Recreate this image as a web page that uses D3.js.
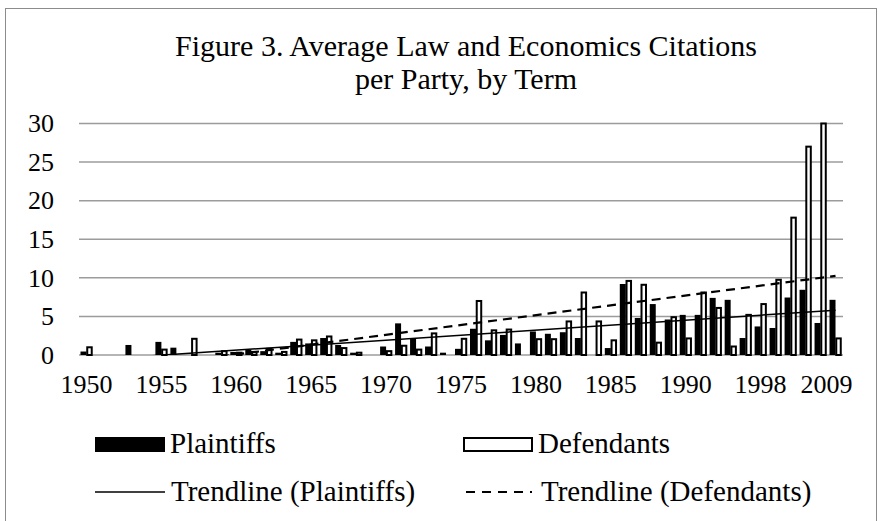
<!DOCTYPE html>
<html>
<head>
<meta charset="utf-8">
<script src="https://cdn.jsdelivr.net/npm/d3@7"></script>
<style>
  body { margin: 0; background: #fff; }
  svg { font-family: "Liberation Serif", "Times New Roman", serif; }
</style>
</head>
<body>
<script>
// terms (categories) - only every 5th one is labelled on the axis
var terms = ["1950","1951","1952","1953","1954","1955","1956","1957","1958","1959",
             "1960","1961","1962","1963","1964","1965","1966","1967","1968","1969",
             "1970","1971","1972","1973","1974","1975","1976","1977","1978","1979",
             "1980","1981","1982","1983","1984","1985","1986","1987","1988","1989",
             "1990","1991","1992","1994","1996","1998","2001","2003","2005","2007",
             "2009"];

var plaintiffs = [0.45, 0, 0, 1.3, 0, 1.7, 0.95, 0, 0, 0.3,
                  0.4, 0.7, 0.5, 0.3, 1.7, 1.5, 2.2, 1.3, 0.3, 0,
                  1.1, 4.1, 2.1, 1.1, 0.3, 0.8, 3.4, 1.9, 2.6, 1.5,
                  3.05, 2.75, 2.95, 2.2, 0, 0.9, 9.2, 4.8, 6.6, 4.6,
                  5.2, 5.2, 7.4, 7.15, 2.2, 3.7, 3.5, 7.45, 8.45, 4.15,
                  7.15];

var defendants = [1.0, 0, 0, 0, 0, 0.7, 0, 2.1, 0, 0.5,
                  0.3, 0.4, 0.8, 0.4, 2.0, 1.9, 2.4, 0.9, 0.3, 0,
                  0.5, 1.2, 0.7, 2.8, 0, 2.1, 7.0, 3.2, 3.3, 0,
                  2.05, 2.05, 4.35, 8.1, 4.35, 1.9, 9.6, 9.1, 1.6, 4.9,
                  2.15, 8.1, 6.1, 1.1, 5.2, 6.6, 9.75, 17.8, 27.0, 30.0,
                  2.15];

var yTicks = [0, 5, 10, 15, 20, 25, 30];
var seriesNames = ["Plaintiffs", "Defendants"];

function main() {

    var W = 879, H = 521;
    var plot = {left: 79, right: 843, top: 123.5, bottom: 355};

    var svg = d3.select("body").append("svg")
        .attr("width", W)
        .attr("height", H);

    svg.append("rect").attr("width", W).attr("height", H).attr("fill", "#fff");

    // outer frame of the chart area (cut by the screenshot)
    svg.append("rect")
        .attr("x", 5.5).attr("y", 8.5)
        .attr("width", 871).attr("height", 530)
        .attr("fill", "none")
        .attr("stroke", "#8c8c8c")
        .attr("stroke-width", 1);

    // title
    var title = svg.append("text")
        .attr("text-anchor", "middle")
        .attr("font-size", 30)
        .attr("fill", "#000");
    title.append("tspan").attr("x", 466).attr("y", 56)
        .text("Figure 3. Average Law and Economics Citations");
    title.append("tspan").attr("x", 466).attr("y", 89)
        .text("per Party, by Term");

    // scales
    var x = d3.scaleBand()
        .domain(terms)
        .range([plot.left, plot.right])
        .paddingInner(0.2)
        .paddingOuter(0.1);

    var xSub = d3.scaleBand()
        .domain(seriesNames)
        .range([0, x.bandwidth()]);

    var y = d3.scaleLinear()
        .domain([0, 30])
        .range([plot.bottom, plot.top]);

    // gridlines
    svg.append("g")
        .selectAll("line")
        .data(yTicks)
        .join("line")
        .attr("x1", plot.left)
        .attr("x2", plot.right)
        .attr("y1", function(d) { return y(d); })
        .attr("y2", function(d) { return y(d); })
        .attr("stroke", "#9c9c9c")
        .attr("stroke-width", 1.5);

    // y axis labels
    var yAxis = svg.append("g")
        .attr("transform", "translate(" + plot.left + ",0)")
        .call(d3.axisLeft(y).tickValues(yTicks).tickSize(0).tickPadding(25));
    yAxis.select(".domain").remove();
    yAxis.selectAll("text")
        .attr("font-family", "Liberation Serif")
        .attr("font-size", 26)
        .attr("fill", "#000");

    // x axis labels
    var shown = terms.filter(function(d, i) { return i % 5 === 0; });
    var xAxis = svg.append("g")
        .attr("transform", "translate(0," + plot.bottom + ")")
        .call(d3.axisBottom(x).tickValues(shown).tickSize(0).tickPadding(20));
    xAxis.select(".domain").remove();
    xAxis.selectAll("text")
        .attr("font-family", "Liberation Serif")
        .attr("font-size", 26)
        .attr("fill", "#000")
        .attr("dx", function(d) { return d === terms[terms.length - 1] ? -9 : 0; });

    // bars
    var rows = terms.map(function(t, i) {
        return {term: t, Plaintiffs: plaintiffs[i], Defendants: defendants[i]};
    });

    svg.append("g")
        .selectAll("rect")
        .data(rows.filter(function(d) { return d.Plaintiffs > 0; }))
        .join("rect")
        .attr("x", function(d) { return x(d.term) + xSub("Plaintiffs"); })
        .attr("width", xSub.bandwidth())
        .attr("y", function(d) { return y(d.Plaintiffs); })
        .attr("height", function(d) { return y(0) - y(d.Plaintiffs); })
        .attr("fill", "#000");

    svg.append("g")
        .selectAll("rect")
        .data(rows.filter(function(d) { return d.Defendants > 0; }))
        .join("rect")
        .attr("x", function(d) { return x(d.term) + xSub("Defendants") + 0.75; })
        .attr("width", xSub.bandwidth() - 1.5)
        .attr("y", function(d) { return y(d.Defendants); })
        .attr("height", function(d) { return y(0) - y(d.Defendants); })
        .attr("fill", "#fff")
        .attr("stroke", "#000")
        .attr("stroke-width", 2);

    // linear trendlines (least squares over term index), clipped to the plot
    svg.append("clipPath").attr("id", "plotclip")
        .append("rect")
        .attr("x", plot.left).attr("y", plot.top - 5)
        .attr("width", plot.right - plot.left)
        .attr("height", plot.bottom - plot.top + 5);

    function trend(vals) {
        var n = vals.length;
        var xs = d3.range(1, n + 1);
        var mx = d3.mean(xs), my = d3.mean(vals);
        var sxy = 0, sxx = 0;
        for (var i = 0; i < n; i++) {
            sxy += (xs[i] - mx) * (vals[i] - my);
            sxx += (xs[i] - mx) * (xs[i] - mx);
        }
        var b = sxy / sxx, a = my - b * mx;
        return [{term: terms[0], v: a + b * 1}, {term: terms[n - 1], v: a + b * n}];
    }

    var line = d3.line()
        .x(function(d) { return x(d.term) + x.bandwidth() / 2; })
        .y(function(d) { return y(d.v); });

    svg.append("path")
        .datum(trend(plaintiffs))
        .attr("clip-path", "url(#plotclip)")
        .attr("d", line)
        .attr("fill", "none")
        .attr("stroke", "#000")
        .attr("stroke-width", 1.5);

    svg.append("path")
        .datum(trend(defendants))
        .attr("clip-path", "url(#plotclip)")
        .attr("d", line)
        .attr("fill", "none")
        .attr("stroke", "#000")
        .attr("stroke-width", 2.2)
        .attr("stroke-dasharray", "9,6");

    // legend
    var lg = svg.append("g").attr("font-size", 29).attr("fill", "#000");

    lg.append("rect").attr("x", 95).attr("y", 437).attr("width", 70).attr("height", 15)
        .attr("fill", "#000");
    lg.append("text").attr("x", 170).attr("y", 453).text("Plaintiffs");

    lg.append("rect").attr("x", 464).attr("y", 438).attr("width", 68).attr("height", 13)
        .attr("fill", "#fff").attr("stroke", "#000").attr("stroke-width", 2);
    lg.append("text").attr("x", 538).attr("y", 453).text("Defendants");

    lg.append("line").attr("x1", 95).attr("x2", 165).attr("y1", 492).attr("y2", 492)
        .attr("stroke", "#000").attr("stroke-width", 1.5);
    lg.append("text").attr("x", 171).attr("y", 501).text("Trendline (Plaintiffs)");

    lg.append("line").attr("x1", 466).attr("x2", 532).attr("y1", 492).attr("y2", 492)
        .attr("stroke", "#000").attr("stroke-width", 2.2)
        .attr("stroke-dasharray", "9,7");
    lg.append("text").attr("x", 541).attr("y", 501).text("Trendline (Defendants)");
}

main();
</script>
</body>
</html>
